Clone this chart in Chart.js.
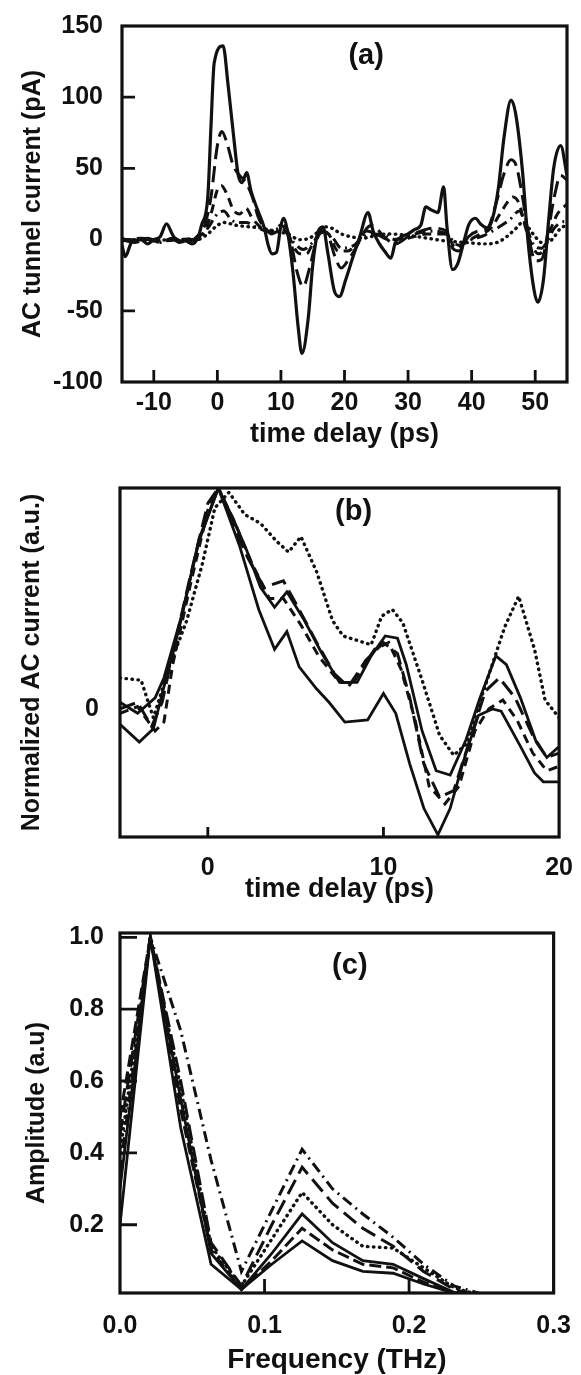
<!DOCTYPE html>
<html lang="en">
<head>
  <meta charset="UTF-8" />
  <title>AC tunnel current – time and frequency response</title>
  <script src="https://cdn.jsdelivr.net/npm/chart.js"></script>
  <style>
    body { margin: 0; background: #fff; }
    .panel { position: absolute; left: 0; width: 581px; }
    canvas { display: block; }
  </style>
</head>
<body>
  <div class="panel" style="top:0"><canvas id="chart-a" width="581" height="460"></canvas></div>
  <div class="panel" style="top:460px"><canvas id="chart-b" width="581" height="450"></canvas></div>
  <div class="panel" style="top:910px"><canvas id="chart-c" width="581" height="465"></canvas></div>

  <script>
    // ---- (a) AC tunnel current vs time delay ----
    const timeA1 = [-15, -14.5, -13.5, -12, -11, -10, -9, -8, -7, -6, -5, -4, -3, -2.5, -1.5, -1, -0.5, 0.9, 1.7, 2.5, 3.3, 3.9, 4.6, 5.3, 6.4, 7.4, 8.0, 8.6, 9.3, 10.0, 10.4, 11.1, 11.9, 12.7, 13.3, 14.3, 15.0, 15.8, 16.6, 17.4, 18.4, 19.2, 20.2, 21.2, 22.4, 23.7, 24.5, 25.5, 26.3, 27.3, 28, 29, 30, 31, 32, 32.8, 33.6, 34.7, 35.6, 36.1, 37, 37.8, 38.8, 39.6, 40.6, 41.4, 42.5, 43.3, 44.2, 45.1, 46.2, 46.9, 48, 48.8, 49.8, 50.4, 51.3, 52.1, 52.9, 54, 55];
    const currentA1 = [-4, -12, -2, 0, -3, 0, 2, 11, 3, -2, -1, -3, 2, 10, 30, 80, 124, 136, 108, 75, 45, 40, 47, 34, 20, 8, -4, -10, -9, 10, 15, 4, -23, -61, -80, -55, -18, 5, 9, -10, -36, -40, -28, -14, 2, 19, 6, -3, -8, -13, -2, 2, 4, 7, 10, 23, 21, 19, 37, 10, -21, -17, -1, 11, 15, 11, 8, 15, 36, 72, 98, 89, 48, 2, -35, -44, -28, 13, 50, 66, 45];

    const timeA2 = [-15, -13, -11, -9, -7, -5, -3, -2, -1, 0, 0.7, 1.5, 2.5, 3.5, 4.5, 5.5, 6.5, 7.5, 8.5, 9.5, 10.5, 11.5, 12.5, 13.5, 14.5, 15.5, 16.5, 17.5, 18.5, 19.5, 20.5, 21.5, 22.5, 23.5, 24.5, 26, 28, 30, 32, 34, 36, 37, 38, 39.5, 41, 42.5, 44, 45, 46.2, 47, 48, 49, 50, 51, 52, 53, 54, 55];
    const currentA2 = [0, -2, 1, -2, 1, -2, 3, 10, 30, 66, 76, 68, 52, 45, 40, 30, 15, 8, 4, 6, 10, 0, -22, -33, -20, -2, 6, 2, -12, -20, -15, -8, 0, 8, 10, 3, -3, 2, 6, 8, 6, -6, -8, 2, 6, 8, 28, 45, 56, 52, 30, 2, -15, -14, 5, 30, 45, 42];

    const timeA3 = [-15, -12, -9, -6, -3, -2, -1, 0, 0.6, 1.5, 2.5, 3.5, 4.5, 5.5, 7, 8.5, 10, 11, 12, 13, 14, 15, 16.5, 17.5, 19, 20.5, 22, 23.5, 25, 27, 30, 33, 36, 37.5, 39, 41, 43, 45, 46.5, 47.5, 48.5, 49.5, 50.5, 51.5, 52.5, 53.5, 55];
    const currentA3 = [-1, 1, -1, 0, 2, 6, 18, 35, 38, 32, 21, 18, 22, 15, 8, 5, 10, 5, -5, -10, -10, -3, 6, 4, -8, -8, -2, 6, 4, 0, 1, 4, 4, -6, -2, 3, 8, 22, 30, 25, 8, -4, -10, -6, 8, 18, 25];

    const timeA4 = [-15, -13, -11, -9, -7, -5, -3, -1.5, 0, 1, 2, 3, 4.5, 6, 8, 10, 12, 13.5, 15, 16.5, 18, 19.5, 21.5, 23.5, 26, 28, 31, 34, 36, 38, 40, 42, 44, 46, 47.5, 48.5, 50, 51, 52, 53, 54, 55];
    const currentA4 = [1, -2, 0, -2, 1, 0, 0, 8, 18, 20, 15, 12, 12, 9, 6, 8, -2, -7, -2, 5, 2, -6, -4, 3, 4, 0, 4, 6, 4, -4, 0, 3, 8, 14, 20, 10, -5, -6, 0, 8, 12, 13];

    const timeA5 = [-15, -10, -5, -3, -1.5, 0, 1, 3, 5, 7, 9, 11, 13, 14.5, 16, 17, 18, 19.5, 21, 23, 25, 27, 30, 33, 36, 39, 42, 44, 45.5, 47, 48, 49, 50, 51, 52, 53, 54, 55];
    const currentA5 = [0, 0, -1, 0, 4, 10, 12, 10, 9, 8, 6, 4, 0, 1, 6, 9, 8, 4, 2, 1, 3, 4, 3, 1, -1, -2, -3, -2, 2, 8, 12, 8, 2, -2, -2, 2, 8, 10];

    const timeTicksA = [-10, 0, 10, 20, 30, 40, 50];
    const currentTicksA = [-100, -50, 0, 50, 100, 150];

    // ---- (b) normalized AC current ----
    const timeB1 = [-5, -3.8, -3.1, -2.5, -2.2, -1.2, -0.3, 0.4, 1.2, 2.1, 3.0, 3.9, 4.6, 5.3, 6.2, 7.1, 7.7, 8.5, 9.3, 9.9, 10.5, 11.1, 12.2, 13.2, 14.0, 14.7, 15.9, 16.9, 17.7, 18.6, 19.2, 20];
    const normB1 = [0.14, 0.13, -0.04, 0.11, 0.19, 0.4, 0.66, 0.91, 0.98, 0.88, 0.84, 0.76, 0.71, 0.78, 0.62, 0.4, 0.33, 0.31, 0.29, 0.42, 0.45, 0.39, 0.13, -0.12, -0.21, -0.16, 0.13, 0.37, 0.51, 0.27, 0.04, -0.04];

    const timeB2 = [-5, -3.9, -3.1, -2.5, -1.5, -0.5, 0.6, 1.8, 2.9, 3.8, 4.5, 5.2, 6.2, 6.9, 7.8, 9.1, 10.0, 10.7, 11.5, 12.3, 13.1, 13.8, 14.5, 15.4, 16.2, 16.7, 17.8, 18.6, 19.1, 20];
    const normB2 = [-0.07, -0.15, -0.09, 0.1, 0.41, 0.77, 1.0, 0.74, 0.45, 0.27, 0.35, 0.19, 0.09, 0.03, -0.06, -0.05, 0.07, -0.02, -0.25, -0.45, -0.57, -0.45, -0.25, -0.03, 0.0, -0.01, -0.17, -0.29, -0.33, -0.33];

    const timeB3 = [-5, -4, -3, -2.5, -1.5, -0.5, 0.6, 1.5, 2.2, 3.0, 3.8, 4.5, 5.5, 6.5, 7.5, 8.5, 9.3, 10.1, 10.8, 11.3, 12.2, 13.0, 13.8, 14.7, 15.5, 16.4, 17.0, 17.8, 18.7, 19.3, 20];
    const normB3 = [0.03, -0.02, 0.05, 0.14, 0.42, 0.76, 1.0, 0.85, 0.72, 0.55, 0.46, 0.53, 0.40, 0.25, 0.12, 0.12, 0.24, 0.33, 0.32, 0.2, -0.1, -0.28, -0.3, -0.14, 0.05, 0.24, 0.2, 0.05, -0.15, -0.22, -0.17];

    const timeB4 = [-5, -4, -3.2, -2.6, -2, -1, 0, 0.6, 1.5, 2.3, 3.2, 4.3, 5.2, 6.2, 7.2, 8, 9, 10, 10.8, 11.5, 12.3, 13.2, 14, 15, 15.8, 16.6, 17.5, 18.5, 19.3, 20];
    const normB4 = [0.0, 0.03, -0.08, 0.03, 0.25, 0.6, 0.93, 1.0, 0.82, 0.68, 0.55, 0.58, 0.45, 0.3, 0.16, 0.1, 0.22, 0.30, 0.25, 0.05, -0.25, -0.4, -0.37, -0.12, 0.08, 0.14, 0.05, -0.12, -0.22, -0.2];

    const timeB5 = [-5, -4, -3, -2.5, -2, -1, 0, 0.6, 1.5, 2.5, 3.5, 4.3, 5.3, 6.3, 7.5, 8.3, 9.5, 10.3, 11, 11.8, 12.6, 13.5, 14.3, 15.2, 16, 16.8, 17.6, 18.5, 19.3, 20];
    const normB5 = [-0.02, 0.01, -0.1, -0.06, 0.2, 0.56, 0.9, 1.0, 0.85, 0.66, 0.5, 0.5, 0.38, 0.24, 0.12, 0.12, 0.27, 0.3, 0.18, -0.05, -0.35, -0.43, -0.35, -0.1, 0.0, 0.04, -0.05, -0.2, -0.28, -0.26];

    const timeTicksB = [0, 10, 20];
    const normTicksB = [0];

    // ---- (c) amplitude spectra ----
    const freqC = [0, 0.021, 0.042, 0.063, 0.084, 0.105, 0.126, 0.147, 0.168, 0.189, 0.21, 0.231, 0.252];
    const ampC1 = [0.35, 1.0, 0.74, 0.38, 0.07, 0.24, 0.41, 0.3, 0.23, 0.165, 0.09, 0.03, 0.005];
    const ampC2 = [0.45, 1.0, 0.6, 0.15, 0.03, 0.2, 0.36, 0.26, 0.19, 0.14, 0.07, 0.02, 0.0];
    const ampC3 = [0.4, 1.0, 0.58, 0.14, 0.03, 0.16, 0.29, 0.2, 0.14, 0.135, 0.08, 0.025, 0.0];
    const ampC4 = [0.3, 1.0, 0.55, 0.12, 0.02, 0.12, 0.23, 0.15, 0.1, 0.09, 0.05, 0.012, 0.0];
    const ampC5 = [0.5, 1.0, 0.52, 0.13, 0.02, 0.1, 0.19, 0.13, 0.09, 0.08, 0.04, 0.01, 0.0];
    const ampC6 = [0.2, 1.0, 0.47, 0.09, 0.02, 0.09, 0.155, 0.1, 0.07, 0.065, 0.035, 0.01, 0.0];

    const freqTicksC = [0, 0.1, 0.2, 0.3];
    const ampTicksC = [0.2, 0.4, 0.6, 0.8, 1.0];

    // ---- drawing ----
    const INK = '#111';
    const FONT = '"Liberation Sans", Arial, Helvetica, sans-serif';

    const pts = (xs, ys) => xs.map((x, i) => ({ x, y: ys[i] }));

    const styles = {
      solid:    { borderWidth: 3.2, borderDash: [] },
      longDash: { borderWidth: 3,   borderDash: [16, 7] },
      dash:     { borderWidth: 3,   borderDash: [9, 6] },
      dashDot:  { borderWidth: 3,   borderDash: [11, 5, 2, 5] },
      dotted:   { borderWidth: 3.4, borderDash: [0.5, 5.5], borderCapStyle: 'round' }
    };

    function line(xs, ys, style, extra) {
      return Object.assign({
        data: pts(xs, ys),
        borderColor: INK,
        pointRadius: 0,
        fill: false
      }, styles[style], extra || {});
    }

    // box round the plot, inward tick marks and the panel tag
    const framePlugin = {
      id: 'frame',
      afterDatasetsDraw(chart, args, o) {
        const { ctx, chartArea: a, scales: { x, y } } = chart;
        ctx.save();
        ctx.strokeStyle = INK;
        ctx.lineWidth = 3.2;
        ctx.strokeRect(a.left, a.top, a.right - a.left, a.bottom - a.top);
        ctx.lineWidth = 2.8;
        ctx.beginPath();
        (o.xMarks || []).forEach(v => {
          const px = x.getPixelForValue(v);
          ctx.moveTo(px, a.bottom);
          ctx.lineTo(px, a.bottom - o.xLen);
        });
        (o.yMarks || []).forEach(v => {
          const py = y.getPixelForValue(v);
          ctx.moveTo(a.left, py);
          ctx.lineTo(a.left + o.yLen, py);
        });
        ctx.stroke();
        ctx.font = 'bold 29px ' + FONT;
        ctx.fillStyle = INK;
        ctx.textAlign = 'center';
        ctx.textBaseline = 'middle';
        ctx.fillText(o.tag, x.getPixelForValue(o.tagAt[0]), y.getPixelForValue(o.tagAt[1]));
        ctx.restore();
      }
    };

    function makePanel(id, p) {
      const tickFont = { family: FONT, size: 25, weight: 'bold' };
      const xTitleFont = { family: FONT, size: p.xTitleSize, weight: 'bold' };
      const yTitleFont = { family: FONT, size: 25, weight: 'bold' };
      return new Chart(document.getElementById(id), {
        type: 'line',
        data: { datasets: p.datasets },
        plugins: [framePlugin],
        options: {
          responsive: false,
          animation: false,
          devicePixelRatio: 1,
          layout: { autoPadding: false, padding: { top: p.padTop, right: p.padRight, left: 0, bottom: 0 } },
          elements: { line: { tension: 0, cubicInterpolationMode: p.monotone ? 'monotone' : 'default' } },
          plugins: {
            legend: { display: false },
            tooltip: { enabled: false },
            frame: p.frame
          },
          scales: {
            x: {
              type: 'linear', min: p.xMin, max: p.xMax,
              afterBuildTicks: s => { s.ticks = p.xTicks.map(v => ({ value: v })); },
              afterFit: s => { s.height = p.xHeight; },
              grid: { display: false },
              border: { display: false },
              ticks: { font: tickFont, color: INK, padding: p.xTickPad, maxRotation: 0, autoSkip: false, callback: p.xFmt },
              title: { display: true, text: p.xTitle, font: xTitleFont, color: INK, padding: { top: 0, bottom: p.xTitlePad } }
            },
            y: {
              type: 'linear', min: p.yMin, max: p.yMax,
              afterBuildTicks: s => { s.ticks = p.yTicks.map(v => ({ value: v })); },
              afterFit: s => { s.width = p.yWidth; },
              grid: { display: false },
              border: { display: false },
              ticks: { font: tickFont, color: INK, padding: p.yTickPad, autoSkip: false, callback: p.yFmt },
              title: { display: true, text: p.yTitle, font: yTitleFont, color: INK, padding: { top: p.yTitlePad, bottom: 0 } }
            }
          }
        }
      });
    }

    makePanel('chart-a', {
      datasets: [
        line(timeA5, currentA5, 'dotted'),
        line(timeA4, currentA4, 'dashDot'),
        line(timeA3, currentA3, 'dash'),
        line(timeA2, currentA2, 'longDash'),
        line(timeA1, currentA1, 'solid')
      ],
      monotone: true,
      padTop: 18, padRight: 14,
      xMin: -15, xMax: 55, xTicks: timeTicksA, xHeight: 78, xTickPad: -2, xTitlePad: 9, xTitleSize: 27,
      xTitle: 'time delay (ps)', xFmt: v => String(v),
      yMin: -100, yMax: 150, yTicks: currentTicksA, yWidth: 122, yTickPad: 11, yTitlePad: 18,
      yTitle: 'AC tunnel current (pA)', yFmt: v => String(v),
      frame: { xMarks: timeTicksA, xLen: 12, yMarks: [-50, 0, 50, 100], yLen: 13, tag: '(a)', tagAt: [23.4, 129] }
    });

    makePanel('chart-b', {
      datasets: [
        line(timeB1, normB1, 'dotted'),
        line(timeB5, normB5, 'dash'),
        line(timeB4, normB4, 'longDash'),
        line(timeB3, normB3, 'solid', { borderWidth: 2.8 }),
        line(timeB2, normB2, 'solid', { borderWidth: 2.8 })
      ],
      padTop: 12, padRight: 14,
      xMin: -5, xMax: 20, xTicks: timeTicksB, xHeight: 73, xTickPad: 8, xTitlePad: 4, xTitleSize: 27,
      xTitle: 'time delay (ps)', xFmt: v => String(v),
      yMin: -0.58, yMax: 1.0, yTicks: normTicksB, yWidth: 120, yTickPad: 13, yTitlePad: 17,
      yTitle: 'Normalized AC current (a.u.)', yFmt: v => String(v),
      frame: { xMarks: [0, 10], xLen: 10, yMarks: [], yLen: 0, tag: '(b)', tagAt: [8.3, 0.89] }
    });

    makePanel('chart-c', {
      datasets: [
        line(freqC, ampC1, 'dashDot'),
        line(freqC, ampC2, 'longDash'),
        line(freqC, ampC3, 'dotted'),
        line(freqC, ampC4, 'solid', { borderWidth: 2.8 }),
        line(freqC, ampC5, 'longDash', { borderDash: [12, 5] }),
        line(freqC, ampC6, 'solid', { borderWidth: 2.8 })
      ],
      padTop: 18, padRight: 13,
      xMin: 0, xMax: 0.3, xTicks: freqTicksC, xHeight: 82, xTickPad: 10, xTitlePad: -2, xTitleSize: 28,
      xTitle: 'Frequency (THz)', xFmt: v => v.toFixed(1),
      yMin: 0.01, yMax: 1.012, yTicks: ampTicksC, yWidth: 120, yTickPad: 8, yTitlePad: 22,
      yTitle: 'Amplitude (a.u)', yFmt: v => v.toFixed(1),
      frame: { xMarks: [0.1, 0.2], xLen: 14, yMarks: ampTicksC, yLen: 17, tag: '(c)', tagAt: [0.159, 0.92] }
    });
  </script>
</body>
</html>
